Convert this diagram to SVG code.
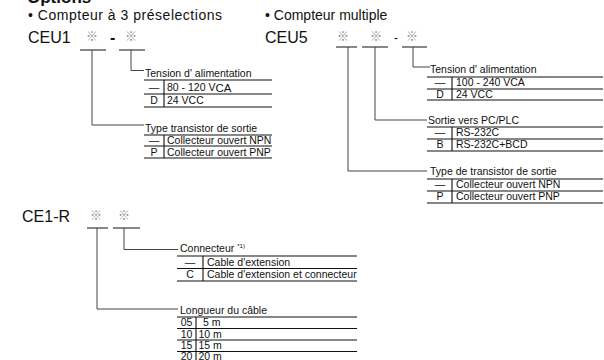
<svg xmlns="http://www.w3.org/2000/svg" width="604" height="360" viewBox="0 0 604 360">
<style>
text{font-family:"Liberation Sans",Arial,sans-serif;fill:#111}
.hd{font-size:14px}
.code{font-size:16px}
.sym{font-family:"Noto Sans CJK JP","DejaVu Sans",sans-serif;font-size:12px;fill:#8a8a8a}
.lbl{font-size:10.5px}
.c{text-anchor:middle}
.ul{stroke:#111;stroke-width:1.2;fill:none}
.tl{stroke:#111;stroke-width:1.1;fill:none}
.cn{stroke:#444;stroke-width:1;fill:none}
</style>
<rect width="604" height="360" fill="#fff"/>
<text x="27" y="3" style="font-size:17px;font-weight:bold">Options</text>

<g id="ceu1">
<text class="hd" x="28" y="20" textLength="194" lengthAdjust="spacing">• Compteur à 3 préselections</text>
<text class="code" x="28" y="43">CEU1</text>
<text class="sym c" x="92" y="41">※</text>
<text class="code" x="110" y="43" style="font-weight:bold">-</text>
<text class="sym c" x="131" y="41">※</text>
<path class="ul" d="M80,50H106M119,50H145"/>
</g>

<g id="ceu1-tension">
<text class="lbl" x="145" y="77">Tension d' alimentation</text>
<path class="tl" d="M144,80H272M144,94H272M144,107H272M164,80V107"/>
<text class="lbl c" x="154" y="91">—</text>
<text class="lbl" x="167" y="91">80 - 120 V<tspan style="font-size:11.5px" dy="1">CA</tspan></text>
<text class="lbl c" x="154" y="104">D</text>
<text class="lbl" x="167" y="104">24 VCC</text>
</g>

<g id="ceu1-type">
<text class="lbl" x="145" y="132">Type transistor de sortie</text>
<path class="tl" d="M144,135H272M144,146H272M144,158H272M164,135V158"/>
<text class="lbl c" x="154" y="143.5">—</text>
<text class="lbl" x="167" y="143.5">Collecteur ouvert NPN</text>
<text class="lbl c" x="154" y="155.5">P</text>
<text class="lbl" x="167" y="155.5">Collecteur ouvert PNP</text>
</g>

<g id="ceu5">
<text class="hd" x="265" y="20">• Compteur multiple</text>
<text class="code" x="265" y="43">CEU5</text>
<text class="sym c" x="343" y="41">※</text>
<text class="sym c" x="376" y="41">※</text>
<text class="code" x="394" y="42" style="font-size:12px">-</text>
<text class="sym c" x="412" y="41">※</text>
<path class="ul" d="M336,47H357M362,47H388M402,47H427"/>
</g>

<g id="ceu5-tension">
<text class="lbl" x="430" y="73">Tension d' alimentation</text>
<path class="tl" d="M427,77H603M427,89H603M427,100H603M452,77V100"/>
<text class="lbl c" x="440" y="86">—</text>
<text class="lbl" x="456" y="86">100 - 240 VCA</text>
<text class="lbl c" x="440" y="97.5">D</text>
<text class="lbl" x="456" y="97.5">24 VCC</text>
</g>

<g id="ceu5-sortie">
<text class="lbl" x="428" y="124">Sortie vers PC/PLC</text>
<path class="tl" d="M427,127H603M427,139H603M427,151H603M452,127V151"/>
<text class="lbl c" x="440" y="136">—</text>
<text class="lbl" x="456" y="136">RS-232C</text>
<text class="lbl c" x="440" y="148">B</text>
<text class="lbl" x="456" y="148">RS-232C+BCD</text>
</g>

<g id="ceu5-type">
<text class="lbl" x="430" y="175">Type de transistor de sortie</text>
<path class="tl" d="M427,179H603M427,191H603M427,203H603M452,179V203"/>
<text class="lbl c" x="440" y="188">—</text>
<text class="lbl" x="456" y="188">Collecteur ouvert NPN</text>
<text class="lbl c" x="440" y="200">P</text>
<text class="lbl" x="456" y="200">Collecteur ouvert PNP</text>
</g>

<g id="ce1r">
<text class="code" x="22" y="222">CE1-R</text>
<text class="sym c" x="96" y="220">※</text>
<text class="sym c" x="124" y="220">※</text>
<path class="ul" d="M87,228H108M113,228H140"/>
</g>

<g id="ce1r-connecteur">
<text class="lbl" x="180" y="252">Connecteur <tspan style="font-size:6px" dy="-4">*1)</tspan></text>
<path class="tl" d="M177,256H357M177,268.5H357M177,281H357M203,256V281"/>
<text class="lbl c" x="190" y="265.5">—</text>
<text class="lbl" x="207" y="265.5">Cable d'extension</text>
<text class="lbl c" x="190" y="278">C</text>
<text class="lbl" x="207" y="278">Cable d'extension et connecteur</text>
</g>

<g id="ce1r-longueur">
<text class="lbl" x="180" y="314">Longueur du câble</text>
<path class="tl" d="M177,317H357M177,328.5H357M177,340H357M177,351.5H357M196,317V362"/>
<text class="lbl c" x="186.5" y="326">05</text>
<text class="lbl" x="203" y="326">5 m</text>
<text class="lbl c" x="186.5" y="337.5">10</text>
<text class="lbl" x="198.5" y="337.5">10 m</text>
<text class="lbl c" x="186.5" y="349">15</text>
<text class="lbl" x="198.5" y="349">15 m</text>
<text class="lbl c" x="186.5" y="360">20</text>
<text class="lbl" x="198.5" y="360">20 m</text>
</g>

<g id="connectors">
<path class="cn" d="M92,50V125H144"/>
<path class="cn" d="M131,50V70.5H144"/>
<path class="cn" d="M348,47V171H427"/>
<path class="cn" d="M375,47V120H427"/>
<path class="cn" d="M413,47V67H430"/>
<path class="cn" d="M124,228V249.5H178"/>
<path class="cn" d="M97,228V309H178"/>
</g>
</svg>
